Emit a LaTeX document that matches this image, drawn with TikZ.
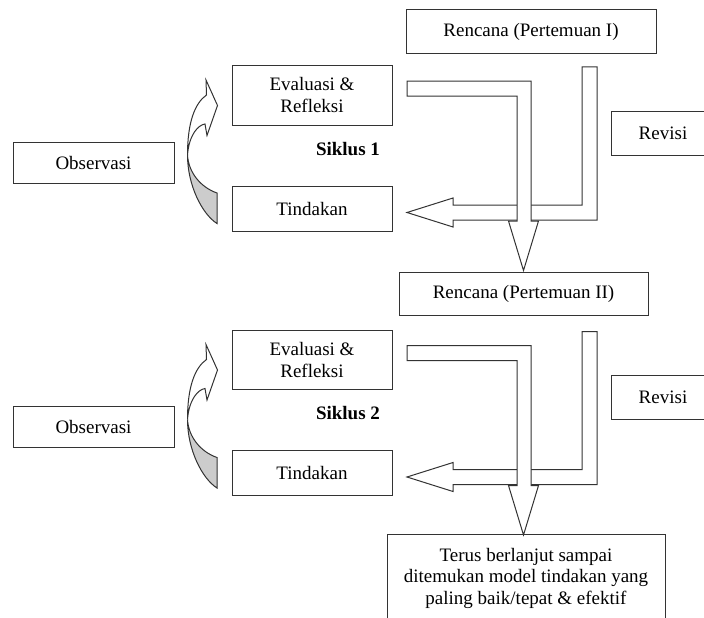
\documentclass[tikz,border=0pt]{standalone}
\usepackage{fontspec}
\setmainfont{Liberation Serif}
\usetikzlibrary{positioning}

\begin{document}
\begin{tikzpicture}[x=1pt,y=-1pt,line join=miter,
    box/.style={draw=black!80,line width=1pt,align=center,inner sep=0pt,
      minimum width=160pt,minimum height=45pt,font=\fontsize{19}{22}\selectfont},
    block/.style={draw=black!80,line width=1pt,fill=white},
    siklus/.style={font=\fontsize{19}{22}\selectfont\bfseries}]
  \useasboundingbox (0,0) rectangle (704,618);

  \node[box,minimum width=250pt,minimum height=44pt] (ren1) at (531,32) {Rencana (Pertemuan I)};
  \node[box,minimum width=249pt,minimum height=43pt] (ren2) at (523.5,293.5) {Rencana (Pertemuan II)};
  \node[box,minimum width=278pt,minimum height=88pt,font=\fontsize{19}{21.5}\selectfont] (akhir) at (526,578)
    {Terus berlanjut sampai\\ditemukan model tindakan yang\\paling baik/tepat \& efektif};

  \foreach \i/\dy in {1/0,2/264.5} {
    \begin{scope}[yshift=-\dy pt]
      \node[box,minimum height=59pt] (eval\i) at (312,95.5) {Evaluasi \&\\Refleksi};
      \node[box] (tind\i) at (312,208.5) {Tindakan};
      \node[box,minimum width=161pt,minimum height=41pt] (obs\i) at (93.5,162.5) {Observasi};
      \node[box,minimum width=104pt,minimum height=44pt] (rev\i) at (663,133) {Revisi};
      \node[siklus] (sik\i) at (348,149) {Siklus \i};
      % revisi
      \draw[block] (582,67) -- (597,67) -- (597,220) -- (453,220) -- (453,227)
        -- (407,212.5) -- (453,198) -- (453,205) -- (582,205) -- cycle;
      % turun
      \draw[block] (407,81) -- (531,81) -- (531,221) -- (538.5,221) -- (523.5,270.5)
        -- (508.5,221) -- (517,221) -- (517,96) -- (407,96) -- cycle;
      % lengkung
      \draw[block,fill=black!20] (187.5,155) .. controls (187.5,185) and (202,214) .. (217,223.5)
        -- (217,193) .. controls (200,187) and (188.5,172) .. cycle;
      \draw[block] (187.5,155) .. controls (187.5,122) and (195,103) .. (206.5,95)
        -- (206,80) -- (217.5,105.5) -- (207,135.5) -- (205,124)
        .. controls (198,125) and (189,135) .. cycle;
    \end{scope}
  }
\end{tikzpicture}
\end{document}
